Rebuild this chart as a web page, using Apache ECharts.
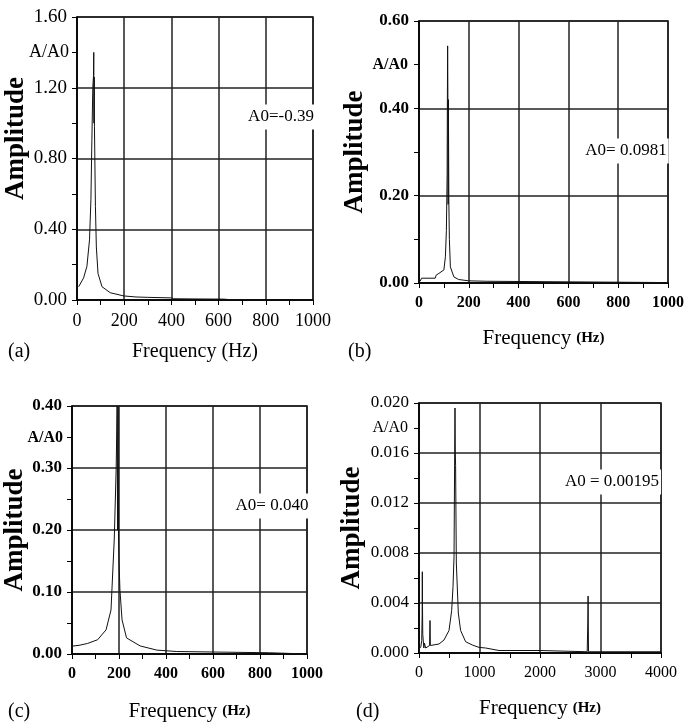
<!DOCTYPE html>
<html>
<head>
<meta charset="utf-8">
<script src="https://cdn.jsdelivr.net/npm/echarts@6/dist/echarts.min.js"></script>
<style>
html,body{margin:0;padding:0;background:#fff;}
#main{width:687px;height:723px;}
</style>
</head>
<body>
<div id="main"></div>
<script>
// (a) A0=-0.39
var freqA = [7, 28, 42, 53, 59, 63, 67, 70, 71, 72, 73, 74, 78, 82, 89, 106, 141, 198, 250, 300, 400, 410, 500, 620, 650, 800, 1000];
var ampA = [0.075, 0.125, 0.19, 0.34, 0.57, 0.90, 1.20, 1.27, 1.40, 1.00, 1.26, 0.98, 0.53, 0.30, 0.15, 0.075, 0.041, 0.023, 0.017, 0.015, 0.012, 0.007, 0.006, 0.005, 0.002, 0.001, 0.001];
// (b) A0=0.0981
var freqB = [5, 10, 65, 69, 80, 100, 106, 110, 113, 114, 115, 116, 117, 118, 120, 122, 126, 140, 159, 199, 200, 270, 275, 1000];
var ampB = [0.004, 0.011, 0.011, 0.018, 0.022, 0.03, 0.06, 0.12, 0.25, 0.42, 0.543, 0.43, 0.18, 0.42, 0.18, 0.10, 0.037, 0.014, 0.008, 0.005, 0.004, 0.004, 0.001, 0.001];
// (c) A0=0.040
var freqC = [0, 30, 66, 109, 145, 166, 180, 188, 192, 194, 196, 198, 200, 204, 213, 232, 290, 361, 446, 450, 840, 845, 1000];
var ampC = [0.0127, 0.014, 0.017, 0.023, 0.039, 0.071, 0.187, 0.30, 0.40, 0.20, 0.40, 0.187, 0.15, 0.103, 0.055, 0.026, 0.013, 0.0063, 0.004, 0.002, 0.002, 0, 0];
// (d) A0=0.00195
var freqD = [0, 30, 45, 52, 55, 58, 62, 80, 90, 110, 175, 182, 188, 220, 331, 413, 496, 540, 562, 579, 590, 595, 600, 605, 617, 650, 688, 771, 882, 992, 1102, 1322, 2000, 2010, 2780, 2790, 2795, 2798, 2802, 2810, 4000];
var ampD = [0.0003, 0.0005, 0.001, 0.003, 0.0065, 0.0037, 0.0015, 0.0004, 0.0008, 0.0004, 0.0006, 0.0026, 0.0006, 0.00064, 0.00072, 0.00104, 0.0018, 0.0034, 0.0053, 0.0077, 0.016, 0.0196, 0.016, 0.015, 0.0072, 0.0032, 0.0018, 0.0009, 0.00064, 0.00045, 0.0004, 0.0002, 0.0002, 0.0001, 0.0001, 0.0024, 0.00456, 0.0024, 0.0001, 0.0001, 0.0001];

var panelLabels = ['(a)', '(b)', '(c)', '(d)'];
var a0Texts = ['A0=-0.39', 'A0= 0.0981', 'A0= 0.040', 'A0 = 0.00195'];
var xMax = [1000, 1000, 1000, 4000];
var xStep = [200, 200, 200, 1000];
var yMax = [1.6, 0.6, 0.4, 0.02];
var yStep = [0.4, 0.2, 0.1, 0.004];
var yDigits = [2, 2, 2, 3];

var FONT = '"Liberation Serif", "Times New Roman", serif';

function pairs(xs, ys) {
    var out = [];
    for (var i = 0; i < xs.length; i++) {
        out.push([xs[i], ys[i]]);
    }
    return out;
}

var grids = [
    {left: 77, top: 17, width: 236, height: 283},
    {left: 419, top: 21, width: 251, height: 262},
    {left: 72, top: 406, width: 235, height: 252},
    {left: 419, top: 403, width: 242, height: 250}
];
var bold = ['normal', 'bold', 'bold', 'normal'];
var labSize = [18, 16, 16, 16];
var yNameGap = [46, 50, 40, 53];
var xNameGap = [42, 45, 47, 45];

var xAxes = [], yAxes = [], series = [];
var allData = [pairs(freqA, ampA), pairs(freqB, ampB), pairs(freqC, ampC), pairs(freqD, ampD)];

for (var k = 0; k < 4; k++) {
    grids[k].show = true;
    grids[k].borderColor = '#111';
    grids[k].borderWidth = 1.5;
    var xName = k === 0 ? 'Frequency (Hz)' : '{a|Frequency} {b|(Hz)}';
    xAxes.push({
        gridIndex: k,
        type: 'value',
        min: 0,
        max: xMax[k],
        interval: xStep[k],
        name: xName,
        nameLocation: 'middle',
        nameGap: xNameGap[k],
        nameTextStyle: {
            fontFamily: FONT, fontSize: 20, color: '#000',
            rich: {
                a: {fontFamily: FONT, fontSize: 21, color: '#000'},
                b: {fontFamily: FONT, fontSize: 15, fontWeight: 'bold', color: '#000'}
            }
        },
        axisLine: {lineStyle: {color: '#000', width: 1.5}},
        axisTick: {length: 5, lineStyle: {color: '#000'}},
        minorTick: {show: true, splitNumber: 2, length: 5, lineStyle: {color: '#000'}},
        axisLabel: {
            fontFamily: FONT, fontSize: labSize[k], fontWeight: bold[k], color: '#000', margin: 12,
            formatter: function (v) { return String(v); }
        },
        splitLine: {show: true, lineStyle: {color: '#222', width: 1.5}}
    });
    yAxes.push({
        gridIndex: k,
        type: 'value',
        min: 0,
        max: yMax[k],
        interval: yStep[k],
        name: 'Amplitude',
        nameLocation: 'middle',
        nameGap: yNameGap[k],
        nameTextStyle: {
            fontFamily: FONT, fontSize: 27, fontWeight: 'bold', color: '#000',
            padding: k === 0 ? [0, 0, 0, 40] : 0
        },
        axisLine: {show: true, lineStyle: {color: '#000', width: 1.5}},
        axisTick: {show: true, length: 5, lineStyle: {color: '#000'}},
        minorTick: {show: true, splitNumber: 2, length: 5, lineStyle: {color: '#000'}},
        axisLabel: {
            fontFamily: FONT, fontSize: labSize[k] + 1, fontWeight: bold[k], color: '#000', margin: 10,
            formatter: (function (d) { return function (v) { return v.toFixed(d); }; })(yDigits[k])
        },
        splitLine: {show: true, lineStyle: {color: '#222', width: 1.5}}
    });
    series.push({
        type: 'line',
        xAxisIndex: k,
        yAxisIndex: k,
        data: allData[k],
        showSymbol: false,
        symbol: 'none',
        lineStyle: {color: '#111', width: 1},
        z: 3
    });
}

var graphics = [];
// panel letters
var letterPos = [[8, 352], [348, 352], [8, 712], [356, 712]];
// A/A0 labels next to the y axis
var ratioPos = [[69, 52], [408, 65], [63, 438], [408, 428]];
// A0 annotations
var a0Pos = [[281, 117], [626, 151], [272, 506], [612, 482]];
for (var j = 0; j < 4; j++) {
    graphics.push({
        type: 'text', x: letterPos[j][0], y: letterPos[j][1],
        style: {text: panelLabels[j], font: '20px ' + FONT, fill: '#000', align: 'left', verticalAlign: 'middle'}
    });
    graphics.push({
        type: 'text', x: ratioPos[j][0], y: ratioPos[j][1],
        style: {text: 'A/A0', font: bold[j] + ' ' + (labSize[j]) + 'px ' + FONT, fill: '#000', align: 'right', verticalAlign: 'middle'}
    });
    graphics.push({
        type: 'text', x: a0Pos[j][0], y: a0Pos[j][1], z: 10,
        style: {text: a0Texts[j], font: '17px ' + FONT, fill: '#000', align: 'center', verticalAlign: 'middle',
            backgroundColor: '#fff', padding: [4, 2]}
    });
}

var myChart = echarts.init(document.getElementById('main'));
var option = {
    animation: false,
    backgroundColor: '#fff',
    grid: grids,
    xAxis: xAxes,
    yAxis: yAxes,
    series: series,
    graphic: graphics
};
myChart.setOption(option);
</script>
</body>
</html>
